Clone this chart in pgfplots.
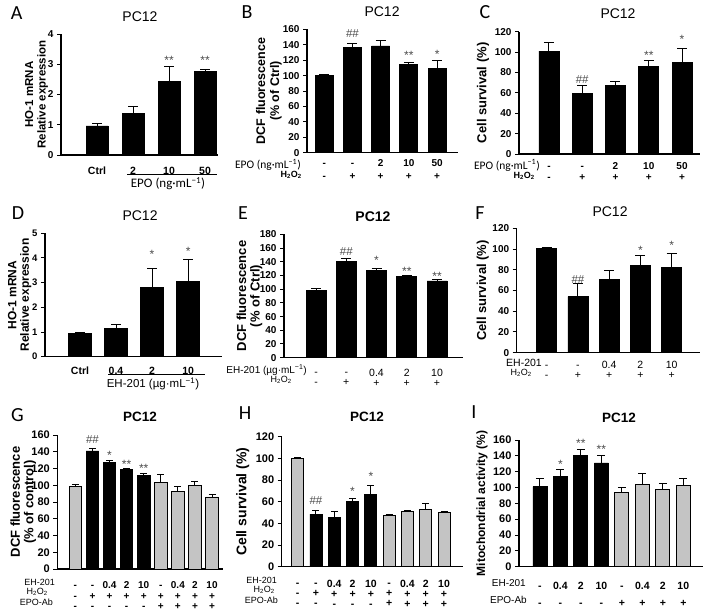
\documentclass[border=0pt]{standalone}
\usepackage{fontspec}
\setmainfont{Liberation Sans}
\newfontfamily\calib{Carlito}
\usepackage{pgfplots}
\pgfplotsset{compat=1.18}
\definecolor{barg}{RGB}{196,196,196}
\newcommand{\rowsII}[2]{\strut#1\\\strut#2}
\newcommand{\rowsIII}[3]{\strut#1\\\strut#2\\\strut#3}

\pgfplotsset{
  panel/.style={scale only axis, anchor=south west, clip=false, ybar, enlargelimits=false,
    axis x line*=bottom, axis y line*=left, axis line style={line width=1.1pt},
    ymin=0, tick align=outside, major tick length=4pt,
    ytick style={line width=1pt, black}, xtick style={draw=none},
    /pgf/number format/assume math mode=true,
    yticklabel style={font=\bfseries\fontsize{10}{12}\selectfont},
    ylabel style={font=\bfseries\fontsize{12.5}{13}\selectfont, align=center, anchor=center},
    title style={anchor=center, font=\fontsize{14}{16}\selectfont},
    xticklabel style={anchor=north, inner sep=0pt, align=center}},
  errs/.style={error bars/.cd, y dir=plus, y explicit,
    error bar style={line width=1pt, black},
    error mark options={rotate=90, mark size=#1, line width=1pt, black}},
  blk/.style={fill=black, draw=black, line width=0.8pt, bar shift=0pt, errs=#1},
  blk/.default=5pt,
  gry/.style={fill=barg, draw=black, line width=0.9pt, bar shift=0pt, errs=#1},
  gry/.default=3.5pt,
}
\tikzset{
  star/.style={font=\fontsize{12}{12}\selectfont, text=black!70, inner sep=0pt, yshift=-2.5pt},
  hash/.style={font=\fontsize{11.5}{12}\selectfont, text=black!70, inner sep=0pt},
  rowl/.style={anchor=east, inner sep=0pt},
  letter/.style={font=\calib\fontsize{20}{20}\selectfont, inner sep=0pt},
}

\begin{document}
\begin{tikzpicture}
\useasboundingbox (0,0) rectangle (709pt,-611pt);

% A
\begin{axis}[panel, at={(61pt,-155pt)}, width=157pt, height=121pt,
  xmin=0, xmax=4.36, ymax=4, ytick={0,1,2,3,4}, bar width=22pt,
  xtick={1,2,3,4}, xticklabels={\strut Ctrl,\strut 2,\strut 10,\strut 50},
  xticklabel style={font=\bfseries\fontsize{10.5}{10}\selectfont, yshift=-7.8pt},
  ylabel={HO-1 mRNA\\Relative expression},
  ylabel style={at={(axis description cs:-0.155,0.5)}, font=\bfseries\fontsize{11.5}{12.5}\selectfont},
  title={PC12}, title style={at={(axis description cs:0.503,1.091)}}]
\addplot[blk] coordinates {(1,0.96) +- (0,0.07) (2,1.38) +- (0,0.24) (3,2.43) +- (0,0.5) (4,2.76) +- (0,0.08)};
\node[star] at (axis cs:3,3.2) {**};
\node[star] at (axis cs:4,3.2) {**};
\end{axis}

% B
\begin{axis}[panel, at={(307pt,-152.7pt)}, width=151pt, height=123.4pt,
  xmin=0.39, xmax=5.74, ymax=160, ytick={0,20,...,160}, bar width=18pt,
  xtick={1,...,5},
  xticklabels={{\rowsII{-}{-}},{\rowsII{-}{+}},{\rowsII{2}{+}},{\rowsII{10}{+}},{\rowsII{50}{+}}},
  xticklabel style={font=\bfseries\fontsize{10}{13}\selectfont, yshift=-0.7pt},
  ylabel={DCF fluorescence\\(\% of Ctrl)},
  ylabel style={at={(axis description cs:-0.252,0.5)}, font=\bfseries\fontsize{12.5}{14}\selectfont},
  title={PC12}, title style={at={(axis description cs:0.497,1.092)}}]
\addplot[blk] coordinates {(1,100.3) +- (0,1) (2,136) +- (0,6) (3,138.4) +- (0,6.5) (4,115) +- (0,2.6) (5,109) +- (0,10)};
\node[hash] at (axis cs:2,155) {\#\#};
\node[star] at (axis cs:4,129) {**};
\node[star] at (axis cs:5,131) {*};
\end{axis}

% C
\begin{axis}[panel, at={(519pt,-154pt)}, width=181pt, height=122.3pt,
  xmin=0.1, xmax=5.54, ymax=120, ytick={0,20,...,120}, bar width=20pt,
  xtick={1,...,5},
  xticklabels={{\rowsII{-}{-}},{\rowsII{-}{+}},{\rowsII{2}{+}},{\rowsII{10}{+}},{\rowsII{50}{+}}},
  xticklabel style={font=\bfseries\fontsize{10}{11}\selectfont, yshift=-3.8pt},
  ylabel={Cell survival (\%)},
  ylabel style={at={(axis description cs:-0.199,0.5)}, font=\bfseries\fontsize{13}{14}\selectfont},
  title={PC12}, title style={at={(axis description cs:0.547,1.096)}}]
\addplot[blk] coordinates {(1,101) +- (0,8) (2,59.5) +- (0,8.2) (3,67.4) +- (0,3.9) (4,86.3) +- (0,5.3) (5,89.6) +- (0,14.1)};
\node[hash] at (axis cs:2,72.6) {\#\#};
\node[star] at (axis cs:4,98.8) {**};
\node[star] at (axis cs:5,114.5) {*};
\end{axis}

% D
\begin{axis}[panel, at={(45pt,-356.7pt)}, width=177pt, height=123.4pt,
  xmin=0.03, xmax=4.94, ymax=5, ytick={0,1,...,5}, bar width=23pt,
  yticklabel style={font=\bfseries\fontsize{9.5}{12}\selectfont},
  xtick={1,2,3,4}, xticklabels={\strut Ctrl,\strut 0.4,\strut 2,\strut 10},
  xticklabel style={font=\bfseries\fontsize{10.5}{10}\selectfont, yshift=-6.4pt},
  ylabel={HO-1 mRNA\\Relative expression},
  ylabel style={at={(axis description cs:-0.143,0.5)}, font=\bfseries\fontsize{12}{12.5}\selectfont},
  title={PC12}, title style={at={(axis description cs:0.537,1.092)}}]
\addplot[blk] coordinates {(1,0.95) +- (0,0.04) (2,1.15) +- (0,0.16) (3,2.8) +- (0,0.78) (4,3.04) +- (0,0.91)};
\node[star] at (axis cs:3,4.26) {*};
\node[star] at (axis cs:4,4.35) {*};
\end{axis}

% E
\begin{axis}[panel, at={(284pt,-357.7pt)}, width=179pt, height=123.4pt,
  xmin=-0.06, xmax=5.86, ymax=180, ytick={0,20,...,180}, bar width=20pt,
  xtick={1,...,5},
  xticklabels={{\rowsII{-}{-}},{\rowsII{-}{+}},{\rowsII{0.4}{+}},{\rowsII{2}{+}},{\rowsII{10}{+}}},
  xticklabel style={font=\fontsize{10.5}{10}\selectfont, yshift=-6.8pt},
  ylabel={DCF fluorescence\\(\% of Ctrl)},
  ylabel style={at={(axis description cs:-0.192,0.5)}, font=\bfseries\fontsize{13}{13.5}\selectfont},
  title={PC12}, title style={at={(axis description cs:0.497,1.092)}, font=\bfseries\fontsize{14}{16}\selectfont}]
\addplot[blk] coordinates {(1,98.7) +- (0,2.5) (2,141) +- (0,4) (3,127) +- (0,3.5) (4,119) +- (0,1) (5,112) +- (0,2)};
\node[hash] at (axis cs:2,154.7) {\#\#};
\node[star] at (axis cs:3,145) {*};
\node[star] at (axis cs:4,130) {**};
\node[star] at (axis cs:5,123) {**};
\end{axis}

% F
\begin{axis}[panel, at={(516.7pt,-352.7pt)}, width=183pt, height=124.4pt,
  xmin=0.04, xmax=5.9, ymax=120, ytick={0,20,...,120}, bar width=20pt,
  xtick={1,...,5},
  xticklabels={{\rowsII{-}{-}},{\rowsII{-}{+}},{\rowsII{0.4}{+}},{\rowsII{2}{+}},{\rowsII{10}{+}}},
  xticklabel style={font=\fontsize{10.5}{10}\selectfont, yshift=-4.5pt},
  ylabel={Cell survival (\%)},
  ylabel style={at={(axis description cs:-0.186,0.5)}, font=\bfseries\fontsize{13}{14}\selectfont},
  title={PC12}, title style={at={(axis description cs:0.51,1.083)}}]
\addplot[blk] coordinates {(1,100.7) +- (0,0.6) (2,54) +- (0,13) (3,70.8) +- (0,8.2) (4,84.6) +- (0,8.7) (5,82) +- (0,13.9)};
\node[hash] at (axis cs:2,71) {\#\#};
\node[star] at (axis cs:4,100.7) {*};
\node[star] at (axis cs:5,105.5) {*};
\end{axis}

% G
\begin{axis}[panel, at={(57.3pt,-569pt)}, width=166pt, height=134pt,
  xmin=-0.06, xmax=9.66, ymax=160, ytick={0,20,...,160}, bar width=12.5pt,
  yticklabel style={font=\bfseries\fontsize{11}{12}\selectfont},
  xtick={1,...,9},
  xticklabels={{\rowsIII{-}{-}{-}},{\rowsIII{-}{+}{-}},{\rowsIII{0.4}{+}{-}},{\rowsIII{2}{+}{-}},{\rowsIII{10}{+}{-}},
    {\rowsIII{-}{+}{+}},{\rowsIII{0.4}{+}{+}},{\rowsIII{2}{+}{+}},{\rowsIII{10}{+}{+}}},
  xticklabel style={font=\bfseries\fontsize{10}{10.3}\selectfont, yshift=-8.3pt},
  ylabel={DCF fluorescence\\(\% of control)},
  ylabel style={at={(axis description cs:-0.205,0.5)}, font=\bfseries\fontsize{13}{13.3}\selectfont},
  title={PC12}, title style={at={(axis description cs:0.498,1.09)}, font=\bfseries\fontsize{13.5}{16}\selectfont}]
\addplot[gry] coordinates {(1,99) +- (0,2) (6,103) +- (0,10) (7,93) +- (0,6) (8,100) +- (0,4.5) (9,86) +- (0,3)};
\addplot[blk=3.5pt] coordinates {(2,141) +- (0,3) (3,127) +- (0,3) (4,119) +- (0,0.8) (5,112) +- (0,2)};
\node[hash] at (axis cs:2,154) {\#\#};
\node[star] at (axis cs:3,139) {*};
\node[star] at (axis cs:4,128) {**};
\node[star] at (axis cs:5,123.5) {**};
\end{axis}

% H
\begin{axis}[panel, at={(281.7pt,-566.7pt)}, width=181pt, height=130pt,
  xmin=0.126, xmax=10.02, ymax=120, ytick={0,20,...,120}, bar width=12pt,
  yticklabel style={font=\bfseries\fontsize{11}{12}\selectfont},
  xtick={1,...,9},
  xticklabels={{\rowsIII{-}{-}{-}},{\rowsIII{-}{+}{-}},{\rowsIII{0.4}{+}{-}},{\rowsIII{2}{+}{-}},{\rowsIII{10}{+}{-}},
    {\rowsIII{-}{+}{+}},{\rowsIII{0.4}{+}{+}},{\rowsIII{2}{+}{+}},{\rowsIII{10}{+}{+}}},
  xticklabel style={font=\bfseries\fontsize{10.5}{10}\selectfont, yshift=-8.8pt},
  ylabel={Cell survival (\%)},
  ylabel style={at={(axis description cs:-0.215,0.5)}, font=\bfseries\fontsize{14}{14}\selectfont},
  title={PC12}, title style={at={(axis description cs:0.471,1.105)}, font=\bfseries\fontsize{13.5}{16}\selectfont}]
\addplot[gry] coordinates {(1,100) +- (0,0.6) (6,47.4) +- (0,1) (7,51.3) +- (0,1) (8,53) +- (0,5) (9,50.5) +- (0,0.6)};
\addplot[blk=3.5pt] coordinates {(2,48.6) +- (0,3.7) (3,45.5) +- (0,5.3) (4,60) +- (0,3) (5,67) +- (0,8)};
\node[hash] at (axis cs:2,61) {\#\#};
\node[star] at (axis cs:4,71.4) {*};
\node[star] at (axis cs:5,86) {*};
\end{axis}

% I
\begin{axis}[panel, at={(519pt,-566.7pt)}, width=184pt, height=126.7pt,
  xmin=-0.02, xmax=8.96, ymax=160, ytick={0,20,...,160}, bar width=14pt,
  yticklabel style={font=\bfseries\fontsize{11}{12}\selectfont},
  xtick={1,...,8},
  xticklabels={{\rowsII{-}{-}},{\rowsII{0.4}{-}},{\rowsII{2}{-}},{\rowsII{10}{-}},
    {\rowsII{-}{+}},{\rowsII{0.4}{+}},{\rowsII{2}{+}},{\rowsII{10}{+}}},
  xticklabel style={font=\bfseries\fontsize{10.5}{17}\selectfont, yshift=-7.1pt},
  ylabel={Mitochondrial activity (\%)},
  ylabel style={at={(axis description cs:-0.201,0.5)}, font=\bfseries\fontsize{12}{13}\selectfont},
  title={PC12}, title style={at={(axis description cs:0.543,1.126)}, font=\bfseries\fontsize{13.5}{16}\selectfont}]
\addplot[blk=4pt] coordinates {(1,101) +- (0,10) (2,113.7) +- (0,9.5) (3,140) +- (0,8.6) (4,131) +- (0,10)};
\addplot[gry=4pt] coordinates {(5,94) +- (0,6) (6,104) +- (0,14) (7,97.7) +- (0,7.3) (8,102) +- (0,9)};
\node[star] at (axis cs:2,132.6) {*};
\node[star] at (axis cs:3,159) {**};
\node[star] at (axis cs:4,151.6) {**};
\end{axis}

% group labels and row labels
\draw[line width=1pt] (127pt,-174.3pt) -- (217pt,-174.3pt);
\node[font=\calib\fontsize{13}{14}\selectfont] at (168pt,-183.5pt) {EPO (ng·mL\textsuperscript{−1})};
\draw[line width=1pt] (108pt,-374.3pt) -- (205pt,-374.3pt);
\node[font=\fontsize{11.5}{12}\selectfont] at (153pt,-384pt) {EH-201 (µg·mL\textsuperscript{−1})};

\node[rowl, font=\calib\fontsize{11.5}{12}\selectfont] at (301pt,-165pt) {EPO (ng·mL\textsuperscript{−1})};
\node[rowl, font=\bfseries\fontsize{9}{10}\selectfont] at (302pt,-175pt) {H\textsubscript{2}O\textsubscript{2}};
\node[rowl, font=\calib\fontsize{11.5}{12}\selectfont] at (540pt,-165.5pt) {EPO (ng·mL\textsuperscript{−1})};
\node[rowl, font=\bfseries\fontsize{9}{10}\selectfont] at (535pt,-176pt) {H\textsubscript{2}O\textsubscript{2}};
\node[rowl, font=\fontsize{10}{11}\selectfont] at (307pt,-370pt) {EH-201 (µg·mL\textsuperscript{−1})};
\node[rowl, font=\fontsize{9}{10}\selectfont] at (292pt,-379.5pt) {H\textsubscript{2}O\textsubscript{2}};
\node[rowl, font=\fontsize{10.5}{11}\selectfont] at (542pt,-363pt) {EH-201};
\node[rowl, font=\fontsize{9}{10}\selectfont] at (532pt,-373pt) {H\textsubscript{2}O\textsubscript{2}};
\node[rowl, font=\fontsize{9}{10}\selectfont] at (55pt,-582pt) {EH-201};
\node[rowl, font=\fontsize{9}{10}\selectfont] at (48pt,-592pt) {H\textsubscript{2}O\textsubscript{2}};
\node[rowl, font=\fontsize{9}{10}\selectfont] at (53pt,-602.5pt) {EPO-Ab};
\node[rowl, font=\fontsize{9}{10}\selectfont] at (277pt,-580pt) {EH-201};
\node[rowl, font=\fontsize{9}{10}\selectfont] at (275pt,-590pt) {H\textsubscript{2}O\textsubscript{2}};
\node[rowl, font=\fontsize{9}{10}\selectfont] at (278pt,-600pt) {EPO-Ab};
\node[rowl, font=\fontsize{10}{11}\selectfont] at (526pt,-583pt) {EH-201};
\node[rowl, font=\fontsize{10}{11}\selectfont] at (527pt,-600pt) {EPO-Ab};

% panel letters
\node[letter] at (16.7pt,-13.3pt) {A};
\node[letter] at (247pt,-11.7pt) {B};
\node[letter] at (485pt,-11.7pt) {C};
\node[letter] at (18pt,-213pt) {D};
\node[letter] at (243pt,-213pt) {E};
\node[letter] at (480pt,-213pt) {F};
\node[letter] at (17.5pt,-415pt) {G};
\node[letter] at (245pt,-413pt) {H};
\node[letter] at (474pt,-412pt) {I};
\end{tikzpicture}
\end{document}
